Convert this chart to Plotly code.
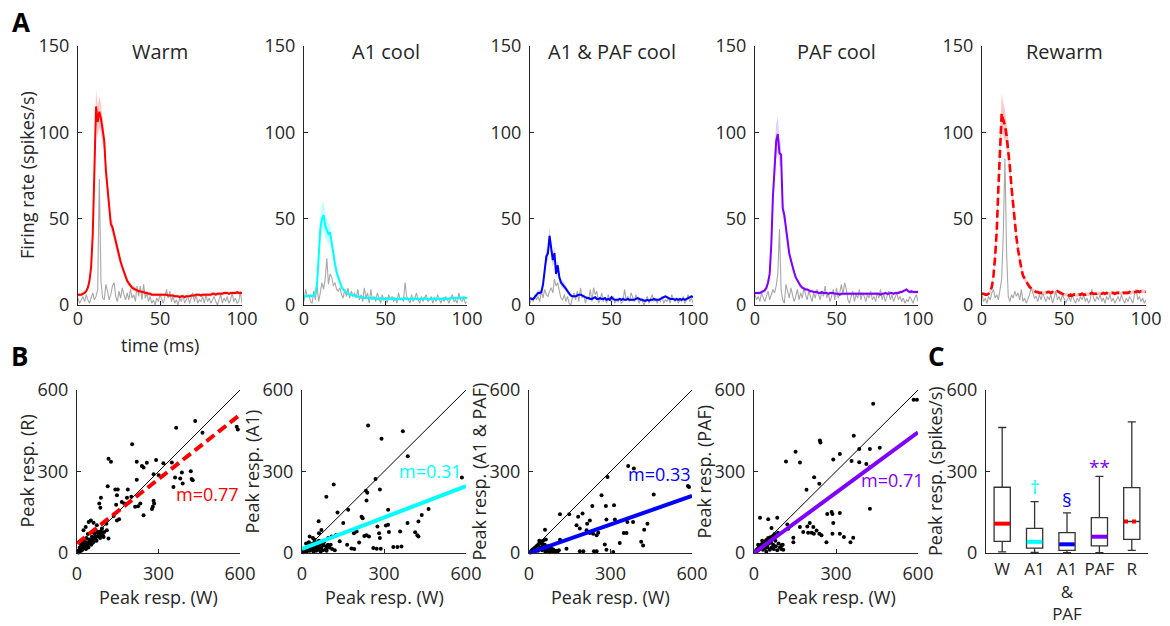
import plotly.graph_objects as go

# ---------------- DATA ----------------
time_ms = list(range(101))

warm_mean = [6, 6, 6, 6.5, 7, 8, 10, 14, 22, 41,
             85, 115, 106, 112, 108, 100, 95, 78, 66, 56,
             47, 45, 41, 36, 32, 28, 25, 22, 19, 16,
             14, 12.5, 11, 10, 9.5, 9, 8.5, 8, 8, 7.5,
             7.5, 7, 7, 6.5, 6.5, 6, 6, 6, 6, 6,
             6, 6, 6, 6, 6, 5.5, 5.5, 5.5, 5.5, 5,
             5, 5, 4.5, 5, 5, 4.5, 5, 5, 5, 5.5,
             5.5, 5.5, 6, 6, 6, 5.5, 6, 6, 6, 6,
             6, 6, 6.5, 6.5, 6, 6.5, 6.5, 6.5, 6.5, 7,
             7, 7, 6.5, 7, 7, 7, 7, 7.5, 7, 7,
             7]
warm_sem = [1, 1, 1, 1, 1, 1, 1.5, 2, 3, 5,
            8, 10, 9, 9, 8, 7, 6, 5, 4.5, 4,
            3.5, 3.5, 3, 3, 3, 2.5, 2.5, 2, 2, 2,
            1.5, 1.5, 1.5, 1.5, 1.5, 1.2, 1.2, 1.2, 1.2, 1.2,
            1, 1, 1, 1, 1, 1, 1, 1, 1, 1,
            1, 1, 1, 1, 1, 1, 1, 1, 1, 1,
            1, 1, 1, 1, 1, 1, 1, 1, 1, 1,
            1, 1, 1, 1, 1, 1, 1, 1, 1, 1,
            1, 1, 1, 1, 1, 1, 1, 1, 1, 1,
            1, 1, 1, 1, 1, 1, 1, 1, 1, 1,
            1]
warm_unit = [4, 1, 3, 5, 2, 6, 3, 1, 4, 7,
             3, 5, 9, 73, 14, 4, 3, 12, 8, 3,
             6, 11, 13, 5, 2, 8, 4, 10, 6, 3,
             7, 3, 9, 4, 6, 2, 11, 5, 11, 3,
             12, 4, 7, 2, 5, 1, 3, 0, 4, 2,
             6, 3, 1, 5, 9, 4, 8, 2, 5, 1,
             3, 0, 4, 2, 6, 1, 3, 5, 1, 4,
             7, 2, 6, 1, 3, 2, 5, 1, 6, 2,
             4, 1, 3, 5, 2, 0, 3, 6, 1, 4,
             2, 5, 1, 3, 7, 2, 4, 1, 2, 8,
             1]

a1_mean = [5, 5, 5, 5, 5.5, 5, 5.5, 7, 12, 26,
           44, 50, 52, 46, 43, 41, 42, 35, 29, 24,
           19, 16, 13, 10.5, 9, 8, 7, 6.5, 6, 6,
           5.5, 5.5, 5, 5, 4.5, 4.5, 4.5, 4, 4, 4,
           4, 4, 3.5, 4, 4, 3.5, 3.5, 4, 3.5, 3.5,
           3.5, 4, 3.5, 3.5, 3.5, 4, 3.5, 3.5, 3.5, 3.5,
           3.5, 3.5, 4, 3.5, 3.5, 3.5, 3.5, 3.5, 4, 3.5,
           3.5, 3.5, 3.5, 3.5, 4, 3.5, 3.5, 3.5, 3.5, 3.5,
           4, 3.5, 3.5, 3.5, 3.5, 3.5, 4, 3.5, 3.5, 3.5,
           4, 4, 4, 4, 4, 4, 4, 4, 4.5, 4,
           4]
a1_sem = [1, 1, 1, 1, 1, 1, 1, 1.5, 3, 5,
          7, 8, 8, 7, 6, 6, 5, 4, 3.5, 3,
          2.5, 2, 2, 1.5, 1.5, 1.2, 1.2, 1, 1, 1,
          1, 1, 1, 1, 1, 1, 1, 1, 1, 1,
          1, 1, 1, 1, 1, 1, 1, 1, 1, 1,
          1, 1, 1, 1, 1, 1, 1, 1, 1, 1,
          1, 1, 1, 1, 1, 1, 1, 1, 1, 1,
          1, 1, 1, 1, 1, 1, 1, 1, 1, 1,
          1, 1, 1, 1, 1, 1, 1, 1, 1, 1,
          1, 1, 1, 1, 1, 1, 1, 1, 1, 1,
          1]
a1_unit = [2, 9, 5, 6, 2, 1, 8, 3, 11, 2,
           7, 13, 9, 15, 27, 12, 18, 16, 11, 13,
           9, 8, 10, 6, 4, 9, 5, 10, 4, 8,
           5, 7, 4, 9, 3, 6, 2, 10, 4, 7,
           1, 9, 3, 5, 2, 7, 4, 1, 6, 3,
           4, 1, 6, 3, 5, 2, 4, 1, 7, 3,
           4, 2, 13, 5, 3, 1, 6, 2, 4, 7,
           3, 1, 5, 2, 4, 6, 2, 3, 5, 1,
           4, 2, 6, 3, 1, 4, 2, 5, 3, 1,
           4, 6, 2, 3, 1, 7, 3, 2, 4, 1,
           2]

ap_mean = [4, 3.5, 3.5, 4.5, 6, 7, 7, 7.5, 12, 20,
           28, 30, 40, 33, 26, 30, 18, 23, 16, 13,
           12, 11, 9.5, 8, 6.5, 5.5, 5, 5, 5, 5.5,
           6, 6, 5.5, 5, 4.5, 4, 4, 3.5, 3.5, 4,
           4.5, 3.5, 3.5, 4, 3.5, 3.5, 4, 3, 3.5, 3,
           4.5, 3.5, 3, 3, 3, 3.5, 3, 3.5, 3, 3,
           3.5, 3, 3, 3, 3, 3.5, 4, 3.5, 3, 3,
           2.5, 2.5, 3, 2.5, 3, 3, 3.5, 3, 3, 3,
           3.5, 4, 4.5, 5, 4.5, 4, 3.5, 3.5, 3.5, 3,
           3.5, 3, 3.5, 3, 3.5, 3, 3.5, 4, 4.5, 5,
           4.5]
ap_sem = [1, 1, 1, 1, 1.5, 1.5, 1.5, 1.5, 2, 3,
          4, 4, 5, 4, 4, 4, 3, 3, 2.5, 2,
          2, 2, 1.5, 1.5, 1.2, 1, 1, 1, 1, 1,
          0.8, 0.8, 0.8, 0.8, 0.8, 0.8, 0.8, 0.8, 0.8, 0.8,
          0.8, 0.8, 0.8, 0.8, 0.8, 0.8, 0.8, 0.8, 0.8, 0.8,
          0.8, 0.8, 0.8, 0.8, 0.8, 0.8, 0.8, 0.8, 0.8, 0.8,
          0.8, 0.8, 0.8, 0.8, 0.8, 0.8, 0.8, 0.8, 0.8, 0.8,
          0.8, 0.8, 0.8, 0.8, 0.8, 0.8, 0.8, 0.8, 0.8, 0.8,
          0.8, 0.8, 0.8, 0.8, 0.8, 0.8, 0.8, 0.8, 0.8, 0.8,
          0.8, 0.8, 0.8, 0.8, 0.8, 0.8, 0.8, 0.8, 0.8, 0.8,
          0.8]
ap_unit = [1, 4, 2, 6, 3, 5, 2, 8, 4, 9,
           6, 5, 8, 10, 7, 15, 11, 13, 8, 4,
           3, 6, 2, 5, 1, 0, 4, 7, 3, 8,
           2, 10, 4, 6, 1, 5, 3, 9, 2, 10,
           6, 8, 1, 3, 7, 2, 4, 1, 6, 3,
           2, 5, 1, 3, 2, 4, 1, 2, 9, 3,
           5, 2, 7, 4, 2, 6, 3, 1, 4, 2,
           0, 3, 5, 1, 3, 6, 2, 4, 1, 3,
           2, 5, 1, 3, 2, 4, 1, 6, 3, 2,
           4, 1, 3, 2, 5, 1, 3, 6, 2, 4,
           1]

paf_mean = [7, 7, 7, 7, 7.5, 8, 8.5, 10, 13, 18,
            35, 63, 82, 95, 99, 88, 87, 56, 52, 44,
            36, 30, 26, 22, 19, 16, 14, 12, 11, 10,
            9.5, 9, 9, 8.5, 8, 8, 7.5, 7.5, 7.5, 7,
            7, 7.5, 7, 7, 7, 6.5, 7, 7, 7, 6.5,
            6.5, 6.5, 6, 6.5, 6.5, 6.5, 6.5, 6.5, 6.5, 6.5,
            6.5, 6.5, 6.5, 6.5, 6.5, 6.5, 6.5, 6.5, 6.5, 6.5,
            6.5, 6.5, 6.5, 6.5, 6.5, 6.5, 6.5, 6, 6.5, 6.5,
            7, 6.5, 6.5, 7, 7, 6.5, 7, 7, 7, 7.5,
            7.5, 8, 8.5, 9, 8, 7.5, 8, 7.5, 7.5, 7.5,
            7.5]
paf_sem = [1, 1, 1, 1, 1, 1, 1.5, 2, 2.5, 3,
           5, 7, 9, 10, 10, 8, 7, 5, 4.5, 4,
           3.5, 3, 2.5, 2, 2, 1.5, 1.5, 1.2, 1.2, 1,
           1, 1, 1, 1, 1, 1, 1, 1, 1, 1,
           1, 1, 1, 1, 1, 1, 1, 1, 1, 1,
           1, 1, 1, 1, 1, 1, 1, 1, 1, 1,
           1, 1, 1, 1, 1, 1, 1, 1, 1, 1,
           1, 1, 1, 1, 1, 1, 1, 1, 1, 1,
           1, 1, 1, 1, 1, 1, 1, 1, 1, 1,
           1, 1, 1, 1, 1, 1, 1, 1, 1, 1,
           1]
paf_unit = [6, 3, 5, 2, 7, 4, 2, 5, 8, 3,
            6, 9, 7, 11, 18, 44, 9, 3, 1, 12,
            8, 4, 10, 6, 2, 5, 9, 3, 7, 4,
            10, 6, 3, 8, 5, 2, 7, 4, 9, 6,
            3, 8, 5, 11, 4, 7, 2, 5, 9, 3,
            10, 4, 7, 12, 6, 13, 9, 3, 1, 5,
            8, 2, 6, 4, 9, 3, 7, 5, 2, 6,
            4, 8, 3, 5, 2, 7, 4, 9, 3, 6,
            2, 5, 8, 3, 6, 2, 4, 7, 3, 5,
            2, 4, 1, 3, 2, 5, 3, 1, 4, 6,
            2]

rw_mean = [6.5, 6.5, 6, 6, 6.5, 8, 10.5, 17, 28, 43,
           68, 95, 111, 107, 104, 98, 90, 80, 68, 57,
           47, 39, 32, 26, 21, 17, 15, 13.5, 12, 10.5,
           9.5, 8.7, 8, 7.5, 7.5, 7, 7, 7, 7, 7,
           7.5, 7.5, 7, 7.5, 7, 7.5, 8, 7.5, 7, 6.5,
           6, 6, 6, 5.5, 6, 5.5, 6, 6, 5.5, 6,
           6, 6.5, 6, 6, 6.5, 6, 6.5, 7, 6.5, 6.5,
           6.5, 7, 6.5, 6.5, 7, 6.5, 7, 6.5, 6.5, 7,
           7, 6.5, 7, 7, 7, 6.5, 7, 7, 7, 7,
           7.5, 7, 7.5, 7.5, 7.5, 8, 7.5, 8, 8, 8,
           7.5]
rw_sem = [1, 1, 1, 1, 1, 1.5, 2, 3, 4, 6,
          8, 10, 11, 10, 9, 8, 7, 6, 5, 4.5,
          4, 3.5, 3, 2.5, 2, 2, 1.5, 1.5, 1.5, 1.2,
          1, 1, 1, 1, 1, 1, 1, 1, 1, 1,
          1, 1, 1, 1, 1, 1, 1, 1, 1, 1,
          1, 1, 1, 1, 1, 1, 1, 1, 1, 1,
          1, 1, 1, 1, 1, 1, 1, 1, 1, 1,
          1, 1, 1, 1, 1, 1, 1, 1, 1, 1,
          1, 1, 1, 1, 1, 1, 1, 1, 1, 1,
          1, 1, 1, 1, 1, 1, 1, 1, 1, 1,
          1]
rw_unit = [6, 2, 4, 1, 5, 3, 7, 9, 4, 6,
           3, 8, 15, 42, 85, 30, 5, 2, 6, 4,
           8, 5, 7, 3, 9, 2, 4, 1, 3, 6,
           10, 7, 4, 5, 2, 6, 3, 7, 4, 2,
           5, 3, 6, 1, 4, 8, 3, 5, 2, 6,
           4, 1, 3, 5, 2, 6, 3, 1, 4, 2,
           5, 3, 6, 2, 4, 1, 3, 9, 4, 2,
           5, 3, 6, 2, 4, 1, 5, 3, 6, 2,
           4, 1, 3, 5, 2, 6, 3, 1, 4, 2,
           5, 3, 1, 6, 9, 3, 5, 2, 4, 1,
           3]

psth_titles = ["Warm", "A1 cool", "A1 & PAF cool", "PAF cool", "Rewarm"]

# Panel B: peak responses (spikes/s), warm (x) vs each condition (y)
b1_w = [435, 365, 462, 588, 592, 203, 116, 125, 257, 220, 291, 318, 349, 239, 245,
        113, 141, 150, 220, 187, 355, 386, 419, 422, 426, 389, 301, 282, 361, 380,
        184, 200, 174, 165, 225, 214, 233, 282, 284, 279, 276, 245, 147, 144, 88,
        86, 82, 135, 147, 155, 108, 110, 100, 92, 73, 43, 51, 61, 32, 24, 86, 98, 116,
        5, 8, 10, 12, 15, 18, 20, 22, 25, 28, 30, 33, 35, 38, 40, 42, 45, 48, 50, 52,
        55, 58, 60, 62, 65, 68, 70, 72, 75, 78, 80, 85, 88, 90, 95, 15, 25, 35, 10,
        3, 6, 40, 20, 55, 62]
b1_r = [486, 461, 443, 465, 455, 400, 347, 336, 332, 336, 342, 330, 333, 320, 315,
        246, 234, 234, 270, 234, 243, 296, 301, 272, 268, 256, 286, 290, 278, 274,
        203, 207, 182, 188, 172, 170, 182, 192, 182, 170, 162, 139, 213, 178, 203,
        167, 182, 136, 120, 124, 108, 84, 77, 90, 102, 114, 120, 111, 96, 84, 65, 59, 53,
        3, 10, 6, 15, 8, 20, 12, 25, 18, 30, 22, 15, 40, 28, 35, 20, 50, 38, 45, 30,
        60, 48, 40, 55, 70, 52, 60, 45, 78, 62, 70, 55, 80, 72, 65, 30, 45, 55, 20,
        8, 2, 70, 40, 35, 75]

b2_w = [242, 369, 291, 387, 585, 269, 285, 234, 239, 236, 116, 89, 130, 169, 218,
        222, 151, 61, 315, 315, 307, 386, 463, 438, 426, 414, 422, 426, 359, 276,
        282, 285, 236, 245, 228, 200, 190, 209, 181, 191, 138, 165, 261, 273, 288,
        334, 349, 364, 318, 71, 96, 108, 28, 40, 62, 124, 105, 89, 120,
        5, 8, 10, 12, 15, 18, 20, 22, 25, 28, 30, 33, 35, 38, 40, 42, 45, 48, 50, 52,
        55, 58, 60, 62, 65, 68, 70, 72, 75, 78, 80, 85, 88, 90, 95, 15, 25, 45, 100, 110]
b2_a1 = [469, 448, 421, 356, 278, 272, 234, 229, 222, 193, 252, 207, 149, 159, 133,
         128, 110, 117, 159, 104, 101, 110, 162, 140, 116, 76, 65, 61, 79, 98,
         73, 55, 65, 61, 63, 79, 73, 39, 17, 15, 43, 30, 18, 16, 16,
         22, 22, 24, 77, 85, 55, 61, 61, 55, 73, 65, 30, 15, 10,
         3, 8, 12, 5, 15, 6, 20, 10, 25, 8, 18, 30, 12, 22, 35, 5, 15, 28, 40, 8,
         20, 32, 12, 45, 25, 5, 18, 35, 10, 28, 40, 12, 25, 8, 30, 35, 40, 50, 20, 15]

b3_w = [365, 386, 289, 267, 283, 313, 233, 459, 585, 589, 114, 148, 181, 197, 214,
        224, 212, 175, 187, 285, 316, 362, 383, 349, 359, 436, 424, 413, 420, 334,
        255, 249, 236, 224, 279, 285, 310, 239, 249, 187, 200, 138, 96, 77, 59, 114,
        5, 8, 10, 12, 15, 18, 20, 22, 25, 28, 30, 33, 35, 38, 40, 42, 45, 48, 50, 52,
        55, 58, 60, 62, 65, 68, 70, 72, 75, 78, 80, 85, 88, 90, 95, 100, 105, 110, 48, 38]
b3_ap = [320, 311, 280, 213, 173, 176, 173, 215, 247, 243, 143, 143, 133, 145, 108,
         120, 84, 102, 90, 123, 123, 114, 114, 74, 74, 108, 86, 41, 28, 37,
         75, 65, 71, 74, 31, 12, 4, 6, 6, 6, 6, 16, 7, 10, 86, 49,
         2, 6, 10, 4, 14, 8, 18, 5, 22, 12, 28, 8, 32, 15, 38, 20, 42, 10, 25, 45,
         15, 30, 5, 50, 18, 8, 25, 12, 3, 20, 8, 15, 5, 12, 3, 8, 4, 10, 35, 45]

b4_w = [584, 596, 436, 365, 241, 243, 152, 168, 117, 314, 290, 357, 385, 424, 460,
        385, 411, 424, 220, 192, 239, 424, 268, 284, 287, 314, 290, 204, 195, 217,
        180, 198, 211, 219, 229, 239, 247, 265, 287, 314, 329, 353, 363, 168, 144,
        144, 122, 125, 85, 22, 52, 64, 101, 107,
        5, 8, 10, 12, 15, 18, 20, 22, 25, 28, 30, 33, 35, 38, 40, 42, 45, 48, 50, 52,
        55, 58, 60, 62, 65, 68, 70, 72, 75, 78, 80, 85, 88, 90, 95, 100, 105, 30, 15, 45]
b4_paf = [564, 564, 549, 432, 414, 407, 373, 333, 337, 364, 344, 339, 383, 383, 387,
          334, 328, 316, 279, 233, 255, 163, 144, 151, 144, 147, 110, 110, 98, 96,
          77, 75, 75, 71, 83, 71, 65, 40, 71, 71, 59, 40, 56, 96, 56,
          40, 105, 89, 130, 130, 124, 92, 28, 12,
          4, 10, 6, 15, 10, 22, 14, 28, 18, 32, 22, 12, 38, 25, 42, 18, 48, 30, 20, 55,
          35, 12, 58, 40, 20, 62, 30, 15, 70, 45, 25, 10, 75, 35, 20, 15, 30, 45, 30, 5]

scatter_ylabels = ["Peak resp. (R)", "Peak resp. (A1)", "Peak resp. (A1 & PAF)", "Peak resp. (PAF)"]
fit_slope_drawn = [0.79, 0.385, 0.35, 0.74]
fit_intercept_drawn = [35, 15, 0, 0]
fit_labels = ["m=0.77", "m=0.31", "m=0.33", "m=0.71"]
fit_label_right_px = [(241, 494), (464, 471), (693, 474), (926, 480)]

# Panel C: box statistics
box_labels = ["W", "A1", "A1<br>&<br>PAF", "PAF", "R"]
box_lowerfence = [4, 2, 1, 1, 10]
box_q1 = [43, 18, 10, 26, 50]
box_median = [108, 41, 32, 60, 116]
box_q3 = [242, 91, 75, 130, 241]
box_upperfence = [462, 189, 148, 282, 483]
sig_marks = ["", "†", "§", "**", ""]
sig_y = [0, 243, 194, 318, 0]

# ---------------- STYLE ----------------
FW, FH = 1170, 626
FONT = "Open Sans"
AX = "#262626"
RED, CYAN, BLUE, PURPLE = "#FF0000", "#00FFFF", "#0000FF", "#8000FF"
cond_colors = [RED, CYAN, BLUE, PURPLE, RED]
band_colors = ["rgba(255,0,0,0.22)", "rgba(0,255,255,0.25)", "rgba(0,0,255,0.2)",
               "rgba(128,0,255,0.2)", "rgba(255,0,0,0.22)"]
box_colors = [RED, CYAN, BLUE, PURPLE, RED]

top_x = [(78, 242), (304, 467), (530, 693), (755, 918), (982, 1146)]
top_y = (46, 305)
bot_x = [(77, 240), (302, 466), (529, 692), (754, 918), (986, 1148)]
bot_y = (390, 553)


def px(x):
    return x / FW


def py(y):
    return 1 - y / FH


def axis_style(**kw):
    d = dict(showline=True, linecolor=AX, linewidth=1, ticks="inside", ticklen=4,
             tickwidth=1, tickcolor=AX, showgrid=False, zeroline=False, automargin=False,
             tickangle=0, tickfont=dict(family=FONT, size=18, color=AX), ticklabelstandoff=4)
    d.update(kw)
    return d


def note(text, x, y, size=18, color=AX, angle=0, xanchor="center"):
    return dict(text=text, x=px(x), y=py(y), xref="paper", yref="paper", showarrow=False,
                xanchor=xanchor, yanchor="middle", textangle=angle,
                font=dict(family=FONT, size=size, color=color))


fig = go.Figure()
layout = dict(width=FW, height=FH, margin=dict(l=0, r=0, t=0, b=0, autoexpand=False),
              paper_bgcolor="white", plot_bgcolor="white", showlegend=False,
              font=dict(family=FONT, color=AX))
annotations = []

means = [warm_mean, a1_mean, ap_mean, paf_mean, rw_mean]
sems = [warm_sem, a1_sem, ap_sem, paf_sem, rw_sem]
units = [warm_unit, a1_unit, ap_unit, paf_unit, rw_unit]

for i in range(5):
    n = i + 1
    xa, ya = f"x{n}", f"y{n}"
    upper = [m + s for m, s in zip(means[i], sems[i])]
    lower = [m - s for m, s in zip(means[i], sems[i])]
    fig.add_trace(go.Scatter(x=time_ms + time_ms[::-1], y=upper + lower[::-1], fill="toself",
                             fillcolor=band_colors[i], line=dict(width=0), mode="lines",
                             hoverinfo="skip", xaxis=xa, yaxis=ya))
    fig.add_trace(go.Scatter(x=time_ms, y=units[i], mode="lines",
                             line=dict(color="#A8A8A8", width=1.1), xaxis=xa, yaxis=ya))
    dash = "8px,4px" if i == 4 else "solid"
    fig.add_trace(go.Scatter(x=time_ms, y=means[i], mode="lines",
                             line=dict(color=cond_colors[i], width=2.6 if i == 4 else 2, dash=dash),
                             xaxis=xa, yaxis=ya))
    layout[f"xaxis{n}"] = axis_style(domain=[px(top_x[i][0]), px(top_x[i][1])], range=[0, 100],
                                     tickvals=[0, 50, 100], anchor=ya, ticklabelstandoff=-3)
    layout[f"yaxis{n}"] = axis_style(domain=[py(top_y[1]), py(top_y[0])], range=[0, 150],
                                     tickvals=[0, 50, 100, 150], anchor=xa)
    annotations.append(note(psth_titles[i], (top_x[i][0] + top_x[i][1]) / 2, 52, size=20))

scatter_sets = [(b1_w, b1_r), (b2_w, b2_a1), (b3_w, b3_ap), (b4_w, b4_paf)]
for i in range(4):
    n = i + 6
    xa, ya = f"x{n}", f"y{n}"
    fig.add_trace(go.Scatter(x=[0, 600], y=[0, 600], mode="lines", line=dict(color="black", width=1),
                             xaxis=xa, yaxis=ya))
    wx, yy = scatter_sets[i]
    fig.add_trace(go.Scatter(x=wx, y=yy, mode="markers", marker=dict(color="black", size=4),
                             cliponaxis=False, xaxis=xa, yaxis=ya))
    m, b = fit_slope_drawn[i], fit_intercept_drawn[i]
    col = cond_colors[4 if i == 0 else i]
    fig.add_trace(go.Scatter(x=[0, 600], y=[b, b + m * 600], mode="lines",
                             line=dict(color=col, width=4, dash="10px,5px" if i == 0 else "solid"),
                             xaxis=xa, yaxis=ya))
    layout[f"xaxis{n}"] = axis_style(domain=[px(bot_x[i][0]), px(bot_x[i][1])], range=[0, 600],
                                     tickvals=[0, 300, 600], anchor=ya)
    layout[f"yaxis{n}"] = axis_style(domain=[py(bot_y[1]), py(bot_y[0])], range=[0, 600],
                                     tickvals=[0, 300, 600], anchor=xa)
    annotations.append(note(fit_labels[i], fit_label_right_px[i][0], fit_label_right_px[i][1],
                            color=col, xanchor="right"))
    annotations.append(note("Peak resp. (W)", (bot_x[i][0] + bot_x[i][1]) / 2, 597))
    annotations.append(note(scatter_ylabels[i], bot_x[i][0] - 51, (bot_y[0] + bot_y[1]) / 2, angle=-90))

# Panel C boxes
xc = [1, 2, 3, 4, 5]
for j in range(5):
    fig.add_trace(go.Box(x=[xc[j]], q1=[box_q1[j]], median=[box_median[j]], q3=[box_q3[j]],
                         lowerfence=[box_lowerfence[j]], upperfence=[box_upperfence[j]],
                         width=0.5, whiskerwidth=0.5, fillcolor="white",
                         line=dict(color="#333333", width=1.3), boxpoints=False,
                         xaxis="x10", yaxis="y10"))
    fig.add_trace(go.Scatter(x=[xc[j] - 0.24, xc[j] + 0.24], y=[box_median[j], box_median[j]],
                             mode="lines",
                             line=dict(color=box_colors[j], width=4,
                                       dash="4px,4px" if j == 4 else "solid"),
                             xaxis="x10", yaxis="y10"))
    if sig_marks[j]:
        annotations.append(dict(text=sig_marks[j], x=xc[j], y=sig_y[j], xref="x10", yref="y10",
                                xanchor="center", yanchor="middle", showarrow=False,
                                font=dict(family=FONT, size=19, color=box_colors[j])))
layout["xaxis10"] = axis_style(domain=[px(bot_x[4][0]), px(bot_x[4][1])], range=[0.5, 5.5],
                               tickvals=xc, ticktext=box_labels, ticks="", anchor="y10",
                               tickfont=dict(family=FONT, size=17, color=AX), ticklabelstandoff=1)
layout["yaxis10"] = axis_style(domain=[py(bot_y[1]), py(bot_y[0])], range=[0, 600],
                               tickvals=[0, 300, 600], anchor="x10")

annotations += [
    note("time (ms)", 160, 345),
    note("Firing rate (spikes/s)", 27, 175, angle=-90),
    note("Peak resp. (spikes/s)", bot_x[4][0] - 51, 471, angle=-90),
    note("<b>A</b>", 21, 22, size=26, color="black"),
    note("<b>B</b>", 19, 356, size=26, color="black"),
    note("<b>C</b>", 936, 356, size=26, color="black"),
]
layout["annotations"] = annotations
fig.update_layout(**layout)
fig.write_html("out.html")
